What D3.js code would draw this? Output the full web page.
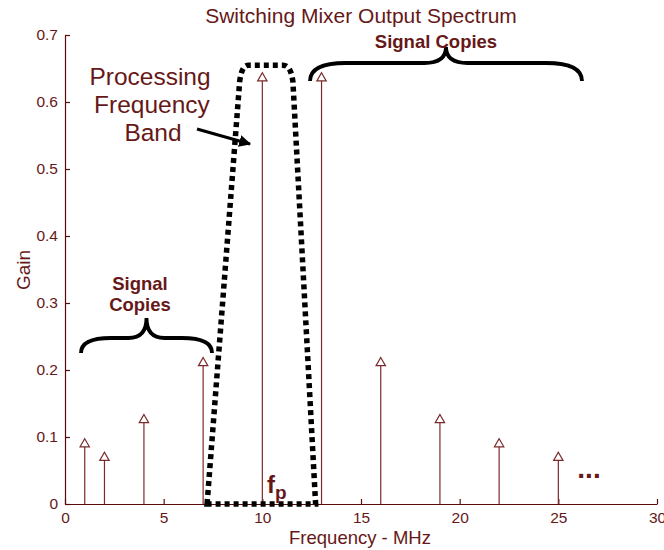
<!DOCTYPE html>
<html><head><meta charset="utf-8">
<script src="https://cdn.jsdelivr.net/npm/d3@7"></script>
<style>body{margin:0;background:#fff}svg{display:block}</style>
</head><body>
<svg id="c" width="664" height="550"></svg>
<script>
const freqs = [1, 2, 4, 7, 10, 13, 16, 19, 22, 25];
const gains = [0.0909, 0.0707, 0.127, 0.212, 0.637, 0.637, 0.212, 0.127, 0.0909, 0.0707];
const xTicks = [0, 5, 10, 15, 20, 25, 30];
const yTicks = [0, 0.1, 0.2, 0.3, 0.4, 0.5, 0.6, 0.7];
const yTickLabels = ["0", "0.1", "0.2", "0.3", "0.4", "0.5", "0.6", "0.7"];
const bandX = [7.2, 8.85, 9.3, 11.05, 11.55, 12.7];
const bandY = [0, 0.63, 0.655, 0.655, 0.63, 0];

const svg = d3.select("#c");
const axisCol = "#5a0c0c", textCol = "#661818", stemCol = "#7a2a2a";
const font = "Arial, 'Liberation Sans', sans-serif";
const L = 65, R = 657, T = 35, B = 504;
const x = d3.scaleLinear().domain([0, 30]).range([L, R]);
const y = d3.scaleLinear().domain([0, 0.7]).range([B, T]);

// axes
const xa = svg.append("g").attr("transform", `translate(0,${B})`)
  .call(d3.axisBottom(x).tickValues(xTicks).tickSizeInner(-5).tickSizeOuter(0).tickPadding(8));
const ya = svg.append("g").attr("transform", `translate(${L},0)`)
  .call(d3.axisLeft(y).tickValues(yTicks).tickFormat((d, i) => yTickLabels[i]).tickSizeInner(-5).tickSizeOuter(0).tickPadding(7));
[xa, ya].forEach(g => {
  g.selectAll("path,line").attr("stroke", axisCol).attr("stroke-width", 1.2);
  g.selectAll("text").attr("fill", textCol).attr("font-family", font).attr("font-size", 15.5);
});

// stems
const stems = svg.append("g");
stems.selectAll("line").data(freqs).join("line")
  .attr("x1", d => x(d)).attr("x2", d => x(d))
  .attr("y1", y(0)).attr("y2", (d, i) => y(gains[i]))
  .attr("stroke", stemCol).attr("stroke-width", 1.2);
stems.selectAll("path").data(freqs).join("path")
  .attr("d", d3.symbol().type(d3.symbolTriangle).size(38))
  .attr("transform", (d, i) => `translate(${x(d)},${y(gains[i]) + 1})`)
  .attr("fill", "#fff").attr("stroke", stemCol).attr("stroke-width", 1.2);

// processing band (dotted)
const band = d3.path();
band.moveTo(x(bandX[0]), y(bandY[0]));
band.lineTo(x(bandX[1]), y(bandY[1]));
band.quadraticCurveTo(x(bandX[1]) + 2, y(bandY[2]), x(bandX[2]), y(bandY[2]));
band.lineTo(x(bandX[3]), y(bandY[3]));
band.quadraticCurveTo(x(bandX[4]) - 2, y(bandY[3]), x(bandX[4]), y(bandY[4]));
band.lineTo(x(bandX[5]), y(bandY[5]));
band.closePath();
svg.append("path").attr("d", band.toString()).attr("fill", "none")
  .attr("stroke", "#000").attr("stroke-width", 5.5).attr("stroke-dasharray", "5 4");

// braces
function brace(x0, x1, yEnd, yMid, yTip) {
  const xm = (x0 + x1) / 2, r = yEnd - yMid;
  return `M${x0},${yEnd} Q${x0},${yMid} ${x0 + r * 2},${yMid} L${xm - r * 1.2},${yMid} Q${xm},${yMid} ${xm},${yTip}` +
         ` Q${xm},${yMid} ${xm + r * 1.2},${yMid} L${x1 - r * 2},${yMid} Q${x1},${yMid} ${x1},${yEnd}`;
}
svg.append("path").attr("d", brace(310, 582, 81, 63, 47)).attr("fill", "none").attr("stroke", "#000").attr("stroke-width", 3.8);
svg.append("path").attr("d", brace(81, 212, 353, 338, 318)).attr("fill", "none").attr("stroke", "#000").attr("stroke-width", 3.8);

// arrow
svg.append("defs").append("marker").attr("id", "ah").attr("viewBox", "0 0 10 10")
  .attr("refX", 9).attr("refY", 5).attr("markerWidth", 4).attr("markerHeight", 4).attr("orient", "auto")
  .attr("markerUnits", "strokeWidth")
  .append("path").attr("d", "M0,0 L10,5 L0,10 Z").attr("fill", "#000");
svg.append("line").attr("x1", 197).attr("y1", 129).attr("x2", 250).attr("y2", 144)
  .attr("stroke", "#000").attr("stroke-width", 3).attr("marker-end", "url(#ah)");

// texts
const txt = (t, px, py, size, weight, anchor) => svg.append("text").text(t)
  .attr("x", px).attr("y", py).attr("font-size", size).attr("font-weight", weight || "normal")
  .attr("text-anchor", anchor || "middle").attr("fill", textCol).attr("font-family", font);
txt("Switching Mixer Output Spectrum", 361, 23, 21);
txt("Frequency - MHz", 360, 544, 18.5);
svg.append("text").text("Gain").attr("transform", "translate(30,270) rotate(-90)")
  .attr("text-anchor", "middle").attr("font-size", 19).attr("fill", textCol).attr("font-family", font);
txt("Processing", 150, 85, 24.5);
txt("Frequency", 152, 113, 24.5);
txt("Band", 153, 141, 24.5);
txt("Signal Copies", 436, 48, 18.5, "bold");
txt("Signal", 140, 290, 18.5, "bold");
txt("Copies", 140, 311, 18.5, "bold");
const fp = txt("f", 267, 493, 24, "bold", "start");
fp.append("tspan").text("p").attr("font-size", 19).attr("dy", 6);
txt("...", 589, 478, 28, "bold");
</script>
</body></html>
